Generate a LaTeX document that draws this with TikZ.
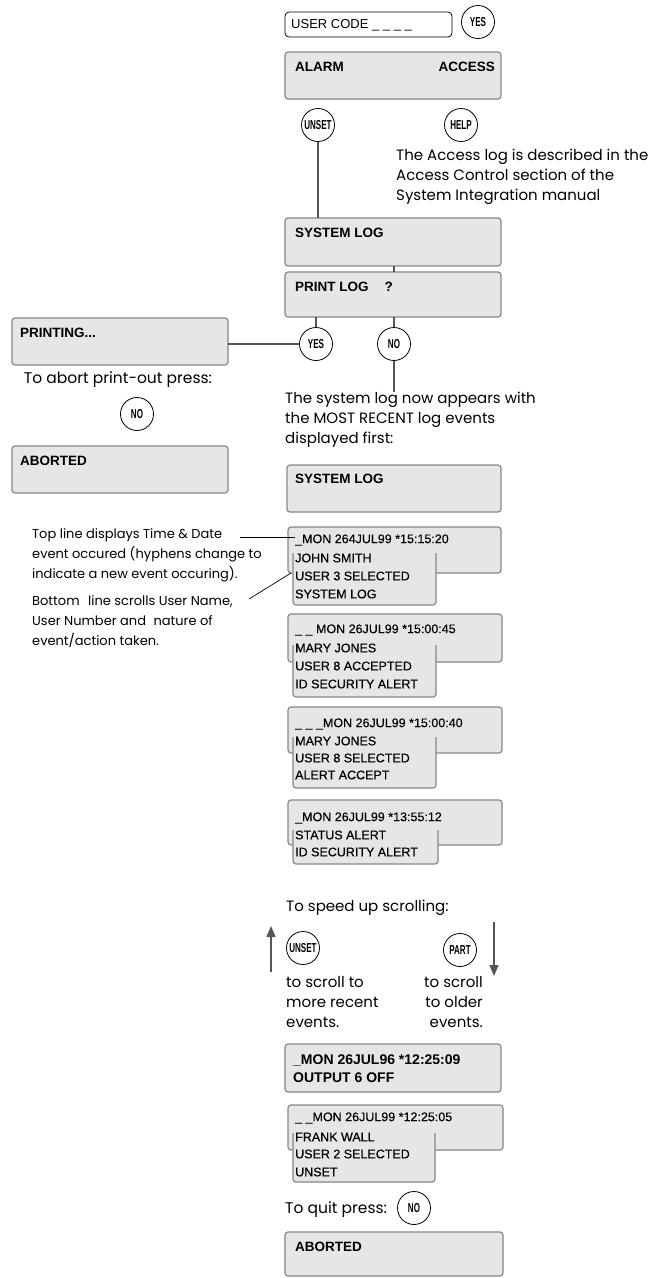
\documentclass[tikz,border=0pt]{standalone}
\usepackage{fontspec}
\usepackage{graphicx}
\setmainfont{Poppins}
\newfontfamily\lcdfont{Liberation Sans}
\newfontfamily\lcdfontdark[FakeBold=0.35]{Liberation Sans}
\usetikzlibrary{arrows.meta,calc}
\definecolor{lcdfill}{RGB}{230,230,230}
\definecolor{lcdedge}{RGB}{135,135,135}
\definecolor{wirecol}{RGB}{85,85,85}
% condensed lettering for the keypad keys
\newcommand\keytxt[1]{\scalebox{0.62}[1]{\lcdfont\fontsize{13}{13}\selectfont\bfseries #1}}
% lower, narrower part of a multi-line log display: top y, bottom y, right x
\newcommand\lcdtail[3]{%
  \path[fill=lcdfill, draw=lcdedge, line width=1.2pt]
    (293,#1) [rounded corners=3pt] -- (293,#2) -- (#3,#2) [sharp corners] -- (#3,#1);}
\begin{document}
\begin{tikzpicture}[x=1pt,y=-1pt,
  lcd/.style={rectangle, draw=lcdedge, fill=lcdfill, line width=1.2pt,
    rounded corners=3pt, anchor=north west, inner sep=0pt, outer sep=0pt},
  entry/.style={rectangle, draw=black, fill=white, line width=0.8pt,
    rounded corners=4pt, anchor=north west, inner sep=0pt, outer sep=0pt},
  lcdhead/.style={font=\lcdfont\fontsize{13.5}{15}\selectfont\bfseries, anchor=west, inner sep=0pt},
  lcdline/.style={font=\lcdfontdark\fontsize{12.5}{14}\selectfont, anchor=west, inner sep=0pt},
  key/.style={circle, draw=black, fill=white, line width=0.8pt, minimum size=33pt, inner sep=0pt},
  note/.style={font=\fontsize{15}{20}\selectfont, align=left, anchor=west, inner sep=0pt},
  sidenote/.style={note, font=\fontsize{13}{20}\selectfont},
  wire/.style={draw=wirecol, line width=1.2pt},
  scrollarrow/.style={draw=wirecol, line width=1.4pt, -{Triangle[length=11pt,width=9pt]}},
]
\useasboundingbox (0,0) rectangle (652,1278);

% ---- code entry and main menu ----
\node[entry, minimum width=167pt, minimum height=25pt] (code) at (285,12) {};
\node[lcdline, font=\lcdfont\fontsize{13}{15}\selectfont] (codetxt) at (291,25) {USER CODE \_ \_ \_ \_};
\node[key] (yes1) at (478,22) {\keytxt{YES}};

\node[lcd, minimum width=216pt, minimum height=47pt] (alarm) at (285,52) {};
\node[lcdhead] (alarmtxt) at (295,67) {ALARM};
\node[lcdhead, anchor=east] (accesstxt) at (495,67) {ACCESS};

\node[key] (unset1) at (318,125) {\keytxt{UNSET}};
\node[key] (help) at (461,125) {\keytxt{HELP}};
\node[note] (helpnote) at (396,177) {The Access log is described in the\\Access Control section of the\\System Integration manual};

% ---- system log menu ----
\node[lcd, minimum width=216pt, minimum height=48pt] (syslog1) at (285,218) {};
\node[lcdhead] (syslog1txt) at (295,233) {SYSTEM LOG};
\node[lcd, minimum width=216pt, minimum height=45pt] (printlog) at (285,272) {};
\node[lcdhead] (printlogtxt) at (295,287) {PRINT LOG\hspace{16pt}?};

\node[key] (yes2) at (316,344) {\keytxt{YES}};
\node[key] (no2) at (394,344) {\keytxt{NO}};

\draw[wire] (unset1.south) -- (unset1.south |- syslog1.north);
\draw[wire] (syslog1.south -| no2) -- (printlog.north -| no2);
\draw[wire] (printlog.south -| yes2) -- (yes2.north);
\draw[wire] (printlog.south -| no2) -- (no2.north);

% ---- printing branch ----
\node[lcd, minimum width=216pt, minimum height=47pt] (printing) at (12,318) {};
\node[lcdhead] (printingtxt) at (20,333) {PRINTING...};
\draw[wire] (yes2.west -| printing.east) -- (yes2.west);
\node[note, anchor=center, font=\fontsize{15.5}{20}\selectfont] (abortnote) at (118,380) {To abort print-out press:};
\node[key] (no1) at (137,414) {\keytxt{NO}};
\node[lcd, minimum width=216pt, minimum height=47pt] (aborted1) at (12,446) {};
\node[lcdhead] (aborted1txt) at (20,461) {ABORTED};

% ---- log listing ----
\node[note] (sysnote) at (285,420) {The system log now appears with\\the MOST RECENT log events\\displayed first:};
\draw[wire] (no2.south) -- (no2.south |- sysnote.north);

\node[lcd, minimum width=214pt, minimum height=47pt] (syslog2) at (287,465) {};
\node[lcdhead] (syslog2txt) at (295,479) {SYSTEM LOG};

\node[lcd, minimum width=213pt, minimum height=46pt] (log1) at (288,527) {};
\lcdtail{553}{605}{436}
\node[lcdline] (log1a) at (295,540) {\_MON 264JUL99 *15:15:20};
\node[lcdline] (log1b) at (295,558) {JOHN SMITH};
\node[lcdline] (log1c) at (295,576) {USER 3 SELECTED};
\node[lcdline] (log1d) at (295,594) {SYSTEM LOG};

\node[lcd, minimum width=214pt, minimum height=48pt] (log2) at (288,614) {};
\lcdtail{645}{697}{436}
\node[lcdline] (log2a) at (295,630) {\_ \_ MON 26JUL99 *15:00:45};
\node[lcdline] (log2b) at (295,648) {MARY JONES};
\node[lcdline] (log2c) at (295,666) {USER 8 ACCEPTED};
\node[lcdline] (log2d) at (295,684) {ID SECURITY ALERT};

\node[lcd, minimum width=214pt, minimum height=46pt] (log3) at (288,707) {};
\lcdtail{737}{788}{436}
\node[lcdline] (log3a) at (295,724) {\_ \_ \_MON 26JUL99 *15:00:40};
\node[lcdline] (log3b) at (295,741) {MARY JONES};
\node[lcdline] (log3c) at (295,758) {USER 8 SELECTED};
\node[lcdline] (log3d) at (295,775) {ALERT ACCEPT};

\node[lcd, minimum width=214pt, minimum height=45pt] (log4) at (288,800) {};
\lcdtail{830}{864}{438}
\node[lcdline] (log4a) at (295,818) {\_MON 26JUL99 *13:55:12};
\node[lcdline] (log4b) at (295,835) {STATUS ALERT};
\node[lcdline] (log4c) at (295,852) {ID SECURITY ALERT};

% ---- annotations on the left ----
\node[sidenote] (topnote) at (32,555) {Top line displays Time \& Date\\event occured (hyphens change to\\indicate a new event occuring).};
\coordinate (topnote-end) at (240,537);
\draw[black, line width=0.7pt] (topnote-end) -- (log1a.west |- topnote-end);
\node[sidenote] (botnote) at (32,622) {Bottom\hspace{5pt} line scrolls User Name,\\User Number and\hspace{4pt} nature of\\event/action taken.};
\coordinate (botnote-end) at (249,599);
\coordinate (log1-tail) at (291,573);
\draw[black, line width=0.7pt] (botnote-end) -- (log1-tail);

% ---- scrolling keys ----
\node[note] (speednote) at (286,908) {To speed up scrolling:};
\coordinate (up-from) at (271,972);
\coordinate (up-to) at (271,926);
\draw[scrollarrow] (up-from) -- (up-to);
\node[key] (unset2) at (303,948) {\keytxt{UNSET}};
\node[key] (part) at (460,950) {\keytxt{PART}};
\coordinate (down-from) at (494,922);
\coordinate (down-to) at (494,976);
\draw[scrollarrow] (down-from) -- (down-to);
\node[note] (recentnote) at (286,1002) {to scroll to\\more recent\\events.};
\node[note, align=right, anchor=east] (oldernote) at (483,1002) {to scroll\\to older\\events.};

% ---- further log entries ----
\node[lcd, minimum width=216pt, minimum height=48pt] (out6) at (285,1044) {};
\node[lcdhead, font=\lcdfont\fontsize{14}{15}\selectfont\bfseries] (out6a) at (293,1060) {\_MON 26JUL96 *12:25:09};
\node[lcdhead, font=\lcdfont\fontsize{14}{15}\selectfont\bfseries] (out6b) at (293,1078) {OUTPUT 6 OFF};

\node[lcd, minimum width=215pt, minimum height=45pt] (log5) at (288,1105) {};
\lcdtail{1133}{1182}{435}
\node[lcdline] (log5a) at (295,1118) {\_ \_MON 26JUL99 *12:25:05};
\node[lcdline] (log5b) at (295,1137) {FRANK WALL};
\node[lcdline] (log5c) at (295,1154) {USER 2 SELECTED};
\node[lcdline] (log5d) at (295,1172) {UNSET};

\node[note, font=\fontsize{15.5}{20}\selectfont] (quitnote) at (285,1210) {To quit press:};
\node[key] (no3) at (414,1208) {\keytxt{NO}};
\node[lcd, minimum width=218pt, minimum height=44pt] (aborted2) at (285,1232) {};
\node[lcdhead] (aborted2txt) at (295,1247) {ABORTED};
\end{tikzpicture}
\end{document}
